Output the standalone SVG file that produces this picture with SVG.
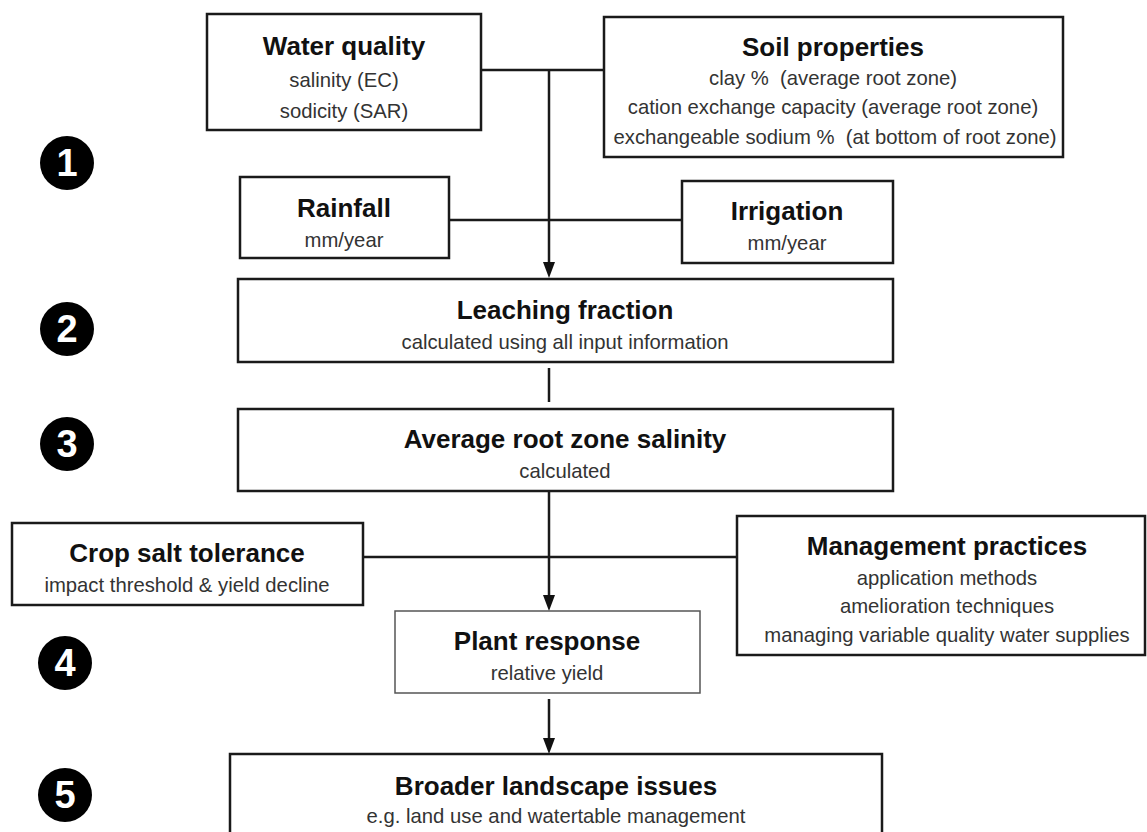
<svg xmlns="http://www.w3.org/2000/svg" width="1147" height="832" viewBox="0 0 1147 832">
<style>
.box{fill:#fff;stroke:#1a1a1a;stroke-width:2.5}
.thin{fill:#fff;stroke:#555;stroke-width:1.5}
.t{font-family:"Liberation Sans",Arial,sans-serif;font-weight:bold;font-size:26px;fill:#111;text-anchor:middle}
.s{font-family:"Liberation Sans",Arial,sans-serif;font-size:20.3px;fill:#333;text-anchor:middle;white-space:pre}
.ln{stroke:#1a1a1a;stroke-width:2.5;fill:none}
.num{font-family:"Liberation Sans",Arial,sans-serif;font-weight:bold;font-size:38px;fill:#fff;text-anchor:middle}
</style>
<rect width="1147" height="832" fill="#fff"/>
<g id="connectors">
<line class="ln" x1="481" y1="70" x2="604" y2="70"/>
<line class="ln" x1="549" y1="70" x2="549" y2="263"/>
<path d="M543,262 L555,262 L549,278 Z" fill="#111"/>
<line class="ln" x1="449" y1="220" x2="682" y2="220"/>
<line class="ln" x1="549" y1="368" x2="549" y2="402"/>
<line class="ln" x1="549" y1="491" x2="549" y2="596"/>
<path d="M543,595 L555,595 L549,611 Z" fill="#111"/>
<line class="ln" x1="363" y1="557" x2="737" y2="557"/>
<line class="ln" x1="549" y1="699" x2="549" y2="739"/>
<path d="M543,738 L555,738 L549,754 Z" fill="#111"/>
</g>
<g id="water-quality">
<rect class="box" x="207" y="14" width="274" height="116"/>
<text class="t" x="344" y="55">Water quality</text>
<text class="s" x="344" y="87">salinity (EC)</text>
<text class="s" x="344" y="118">sodicity (SAR)</text>
</g>
<g id="soil-properties">
<rect class="box" x="604" y="17" width="459" height="140"/>
<text class="t" x="833" y="56">Soil properties</text>
<text class="s" x="833" y="85" xml:space="preserve">clay %  (average root zone)</text>
<text class="s" x="833" y="114">cation exchange capacity (average root zone)</text>
<text class="s" x="835" y="144" xml:space="preserve">exchangeable sodium %  (at bottom of root zone)</text>
</g>
<g id="rainfall">
<rect class="box" x="240" y="177" width="209" height="81"/>
<text class="t" x="344" y="217">Rainfall</text>
<text class="s" x="344" y="247">mm/year</text>
</g>
<g id="irrigation">
<rect class="box" x="682" y="181" width="211" height="82"/>
<text class="t" x="787" y="220">Irrigation</text>
<text class="s" x="787" y="250">mm/year</text>
</g>
<g id="leaching-fraction">
<rect class="box" x="238" y="279" width="655" height="83"/>
<text class="t" x="565" y="319">Leaching fraction</text>
<text class="s" x="565" y="349">calculated using all input information</text>
</g>
<g id="average-root-zone-salinity">
<rect class="box" x="238" y="409" width="655" height="82"/>
<text class="t" x="565" y="448">Average root zone salinity</text>
<text class="s" x="565" y="478">calculated</text>
</g>
<g id="crop-salt-tolerance">
<rect class="box" x="12" y="523" width="351" height="82"/>
<text class="t" x="187" y="562">Crop salt tolerance</text>
<text class="s" x="187" y="592">impact threshold &amp; yield decline</text>
</g>
<g id="management-practices">
<rect class="box" x="737" y="516" width="408" height="139"/>
<text class="t" x="947" y="555">Management practices</text>
<text class="s" x="947" y="585">application methods</text>
<text class="s" x="947" y="613">amelioration techniques</text>
<text class="s" x="947" y="642">managing variable quality water supplies</text>
</g>
<g id="plant-response">
<rect class="thin" x="395" y="611" width="305" height="82"/>
<text class="t" x="547" y="650">Plant response</text>
<text class="s" x="547" y="680">relative yield</text>
</g>
<g id="broader-landscape-issues">
<rect class="box" x="230" y="754" width="652" height="90"/>
<text class="t" x="556" y="795">Broader landscape issues</text>
<text class="s" x="556" y="823">e.g. land use and watertable management</text>
</g>
<g id="step-1"><circle cx="67" cy="163" r="27" fill="#000"/><text class="num" x="67" y="176">1</text></g>
<g id="step-2"><circle cx="67" cy="329" r="27" fill="#000"/><text class="num" x="67" y="342">2</text></g>
<g id="step-3"><circle cx="67" cy="444" r="27" fill="#000"/><text class="num" x="67" y="457">3</text></g>
<g id="step-4"><circle cx="65" cy="663" r="27" fill="#000"/><text class="num" x="65" y="676">4</text></g>
<g id="step-5"><circle cx="65" cy="795" r="27" fill="#000"/><text class="num" x="65" y="808">5</text></g>
</svg>
